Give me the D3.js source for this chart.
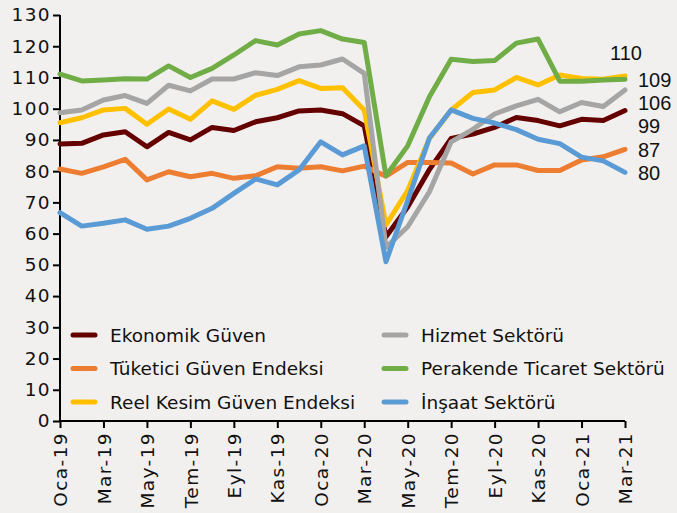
<!DOCTYPE html>
<html>
<head>
<meta charset="utf-8">
<script src="https://cdn.jsdelivr.net/npm/d3@7"></script>
<style>
  html, body { margin: 0; padding: 0; background: #f2f0ee; }
  svg { display: block; }
</style>
</head>
<body>
<div id="chart"></div>
<script>
// Months Oca-19 .. Mar-21
const months = ["Oca-19", "Şub-19", "Mar-19", "Nis-19", "May-19", "Haz-19", "Tem-19", "Ağu-19", "Eyl-19",
    "Eki-19", "Kas-19", "Ara-19", "Oca-20", "Şub-20", "Mar-20", "Nis-20", "May-20", "Haz-20", "Tem-20",
    "Ağu-20", "Eyl-20", "Eki-20", "Kas-20", "Ara-20", "Oca-21", "Şub-21", "Mar-21"];

const ekonomik = [88.7, 88.9, 91.6, 92.6, 87.8, 92.4, 90.0, 94.0, 93.0, 95.8, 97.1, 99.3, 99.6, 98.4,
    94.5, 59.0, 68.5, 80.5, 90.5, 91.9, 94.0, 97.2, 96.2, 94.5, 96.6, 96.2, 99.4];
const tuketici = [80.7, 79.3, 81.4, 83.8, 77.2, 79.8, 78.2, 79.3, 77.7, 78.5, 81.4, 80.9, 81.4, 80.1,
    81.6, 78.4, 82.8, 82.8, 82.6, 79.1, 82.0, 82.0, 80.2, 80.2, 83.6, 84.6, 87.0];
const reelKesim = [95.5, 97.1, 99.6, 100.1, 95.0, 99.9, 96.6, 102.5, 99.8, 104.3, 106.2, 109.0, 106.5,
    106.7, 99.6, 62.8, 73.8, 90.5, 99.6, 105.2, 106.0, 110.0, 107.6, 110.8, 109.7, 109.4, 110.5];
const hizmet = [98.7, 99.6, 102.8, 104.2, 101.7, 107.5, 105.7, 109.5, 109.5, 111.5, 110.6, 113.4, 114.0,
    115.9, 111.3, 55.6, 62.2, 73.4, 89.4, 93.4, 98.3, 100.9, 103.0, 99.0, 102.0, 100.7, 106.0];
const perakende = [111.1, 108.9, 109.2, 109.6, 109.5, 113.7, 110.0, 112.9, 117.2, 121.8, 120.4, 123.9,
    125.0, 122.3, 121.2, 78.5, 88.1, 103.8, 115.8, 115.1, 115.4, 121.0, 122.3, 108.8, 108.8, 109.2, 109.4];
const insaat = [66.7, 62.4, 63.3, 64.4, 61.4, 62.4, 64.9, 68.1, 72.9, 77.5, 75.6, 80.4, 89.4, 85.2,
    88.1, 51.0, 70.6, 90.6, 99.6, 96.9, 95.4, 93.3, 90.2, 88.8, 84.5, 83.3, 79.6];

const seriesNames = ["Ekonomik Güven", "Tüketici Güven Endeksi", "Reel Kesim Güven Endeksi",
    "Hizmet Sektörü", "Perakende Ticaret Sektörü", "İnşaat Sektörü"];
const seriesValues = [ekonomik, tuketici, reelKesim, hizmet, perakende, insaat];
const seriesColors = ["#650000", "#ed7d31", "#ffc000", "#a5a5a5", "#70ad47", "#5b9bd5"];
const endLabels = ["99", "87", "110", "106", "109", "80"];

const yTicks = d3.range(0, 131, 10);
const xTicks = months.filter((m, i) => i % 2 === 0);

const width = 677, height = 513;
const margin = { top: 15, right: 52, bottom: 92, left: 60 };

const svg = d3.select("#chart").append("svg")
    .attr("width", width)
    .attr("height", height);

const x = d3.scalePoint()
    .domain(months)
    .range([margin.left, width - margin.right]);

const y = d3.scaleLinear()
    .domain([0, 130])
    .range([height - margin.bottom, margin.top]);

const tickFont = "'DejaVu Sans', Verdana, sans-serif";

// axes
const yAxis = svg.append("g")
    .attr("transform", `translate(${margin.left},0)`)
    .call(d3.axisLeft(y).tickValues(yTicks).tickSize(7).tickPadding(2).tickSizeOuter(0));
yAxis.select(".domain").attr("stroke", "#000").attr("stroke-width", 2)
    .attr("d", `M0,${y(0)}V${y(130)}`);
yAxis.selectAll(".tick line").attr("stroke", "#000").attr("stroke-width", 2);
yAxis.selectAll(".tick text")
    .style("font-family", tickFont)
    .style("font-size", "18.5px")
    .style("letter-spacing", "1.4px")
    .attr("fill", "#111");

const xAxis = svg.append("g")
    .attr("transform", `translate(0,${y(0)})`)
    .call(d3.axisBottom(x).tickValues(xTicks).tickSize(7).tickSizeOuter(0));
xAxis.select(".domain").attr("stroke", "#000").attr("stroke-width", 2)
    .attr("d", `M${x.range()[0]},0H${x.range()[1]}`);
xAxis.selectAll(".tick line").attr("stroke", "#000").attr("stroke-width", 2);
xAxis.selectAll(".tick text")
    .style("font-family", tickFont)
    .style("font-size", "18.5px")
    .style("letter-spacing", "1.4px")
    .attr("fill", "#111")
    .attr("text-anchor", "end")
    .attr("transform", "rotate(-90)")
    .attr("x", -11)
    .attr("y", 0)
    .attr("dy", "0.36em");

// lines
const line = d3.line()
    .x((d, i) => x(months[i]))
    .y(d => y(d));

svg.append("g")
    .selectAll("path")
    .data(seriesValues)
    .join("path")
    .attr("fill", "none")
    .attr("stroke", (d, i) => seriesColors[i])
    .attr("stroke-width", 5)
    .attr("stroke-linejoin", "round")
    .attr("stroke-linecap", "round")
    .attr("d", line);

// end labels: stacked under the green line end, yellow one above
const last = months.length - 1;
const stackOrder = [4, 3, 0, 1, 5];
const stackTop = y(perakende[last]);
const labelPos = {};
stackOrder.forEach((s, k) => { labelPos[s] = { x: x(months[last]) + 13, y: stackTop + k * 23.4 }; });
labelPos[2] = { x: x(months[last]) - 15, y: y(reelKesim[last]) - 23 };

svg.append("g")
    .selectAll("text")
    .data(seriesValues)
    .join("text")
    .attr("x", (d, i) => labelPos[i].x)
    .attr("y", (d, i) => labelPos[i].y)
    .attr("dy", "0.36em")
    .style("font-family", "'Liberation Sans', Arial, sans-serif")
    .style("font-size", "20px")
    .attr("fill", "#111")
    .text((d, i) => endLabels[i]);

// legend, two columns of three
const legend = svg.append("g")
    .selectAll("g")
    .data(seriesNames)
    .join("g")
    .attr("transform", (d, i) => `translate(${i < 3 ? 73 : 384},${335 + (i % 3) * 33.5})`);

legend.append("line")
    .attr("x1", 0).attr("x2", 22)
    .attr("stroke", (d, i) => seriesColors[i])
    .attr("stroke-width", 5)
    .attr("stroke-linecap", "round");

legend.append("text")
    .attr("x", 37)
    .attr("dy", "0.36em")
    .style("font-family", tickFont)
    .style("font-size", "18.5px")
    .attr("fill", "#111")
    .text(d => d);
</script>
</body>
</html>
